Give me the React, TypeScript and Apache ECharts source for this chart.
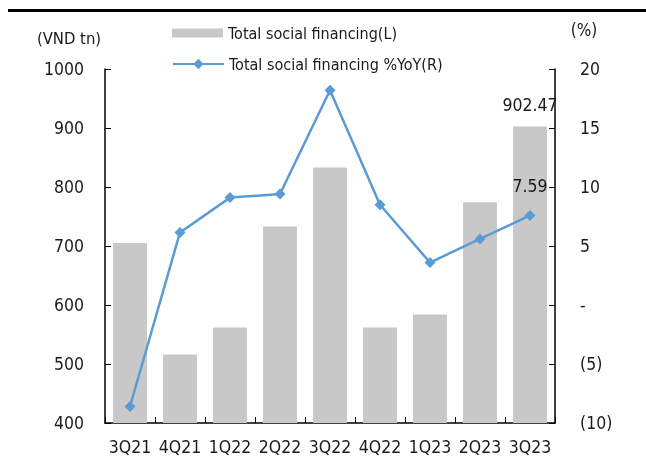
import React, { useEffect, useRef } from "react";
import * as echarts from "echarts";

const categories = ["3Q21", "4Q21", "1Q22", "2Q22", "3Q22", "4Q22", "1Q23", "2Q23", "3Q23"];
const financing = [705, 516, 562, 733, 833, 562, 584, 774, 902.47];
const yoy = [-8.6, 6.15, 9.1, 9.4, 18.2, 8.5, 3.6, 5.6, 7.59];
const leftTicks = [400, 1000, 100];
const rightTicks = [-10, 20, 5];

const FONT = "'DejaVu Sans Condensed', 'Liberation Sans', sans-serif";
const TXT = "#1a1a1a";
const FS = 16;
const AFS = 17.5;

export default function App() {
  const ref = useRef<HTMLDivElement>(null);
  useEffect(() => {
    const chart = echarts.init(ref.current!, undefined, { renderer: "svg" });
    const lastIdx = financing.length - 1;
    chart.setOption({
      animation: false,
      textStyle: { fontFamily: FONT },
      grid: { left: 105, right: 91, top: 69, bottom: 36 },
      legend: [
        {
          left: 167,
          top: 20,
          itemWidth: 51,
          itemHeight: 9,
          textStyle: { fontSize: FS, color: TXT, fontFamily: FONT },
          data: [{ name: "Total social financing(L)", icon: "rect" }],
        },
        {
          left: 167,
          top: 51,
          itemWidth: 51,
          itemHeight: 13,
          textStyle: { fontSize: FS, color: TXT, fontFamily: FONT },
          data: [{ name: "Total social financing %YoY(R)" }],
        },
      ],
      graphic: [
        { type: "rect", shape: { x: 8, y: 9, width: 638, height: 3 }, style: { fill: "#000" } },
        { type: "text", x: 69, y: 38, style: { text: "(VND tn)", fontSize: 16.5, fontFamily: FONT, fill: TXT, align: "center", verticalAlign: "middle" } },
        { type: "text", x: 584, y: 30, style: { text: "(%)", fontSize: 17, fontFamily: FONT, fill: TXT, align: "center", verticalAlign: "middle" } },
      ],
      xAxis: {
        type: "category",
        data: categories,
        axisLine: { onZero: false, lineStyle: { color: "#000", width: 1.5 } },
        axisTick: { show: true, inside: true, length: 6, lineStyle: { color: "#000" } },
        axisLabel: { interval: 0, fontSize: AFS, color: TXT, margin: 15, fontFamily: FONT },
      },
      yAxis: [
        {
          type: "value",
          min: leftTicks[0],
          max: leftTicks[1],
          interval: leftTicks[2],
          splitLine: { show: false },
          axisLine: { show: true, lineStyle: { color: "#000", width: 1.5 } },
          axisTick: { show: true, inside: true, length: 6, lineStyle: { color: "#000" } },
          axisLabel: { fontSize: AFS, color: TXT, margin: 21, fontFamily: FONT, formatter: (v: number) => String(v) },
        },
        {
          type: "value",
          min: rightTicks[0],
          max: rightTicks[1],
          interval: rightTicks[2],
          position: "right",
          splitLine: { show: false },
          axisLine: { show: true, lineStyle: { color: "#000", width: 1.5 } },
          axisTick: { show: true, inside: true, length: 6, lineStyle: { color: "#000" } },
          axisLabel: {
            fontSize: AFS,
            color: TXT,
            margin: 25,
            fontFamily: FONT,
            formatter: (v: number) => (v === 0 ? "-" : v < 0 ? `(${-v})` : `${v}`),
          },
        },
      ],
      series: [
        {
          name: "Total social financing(L)",
          type: "bar",
          yAxisIndex: 0,
          barWidth: 34,
          itemStyle: { color: "#c8c8c8" },
          data: financing.map((v, i) =>
            i === lastIdx
              ? { value: v, label: { show: true, position: "top", distance: 13, fontSize: AFS, color: TXT, fontFamily: FONT, formatter: "902.47" } }
              : v
          ),
        },
        {
          name: "Total social financing %YoY(R)",
          type: "line",
          yAxisIndex: 1,
          symbol: "diamond",
          symbolSize: 11,
          lineStyle: { color: "#5b9bd5", width: 2.5 },
          itemStyle: { color: "#5b9bd5" },
          data: yoy.map((v, i) =>
            i === lastIdx
              ? { value: v, label: { show: true, position: "top", distance: 15, fontSize: AFS, color: TXT, fontFamily: FONT, formatter: "7.59" } }
              : v
          ),
        },
      ],
    });
    return () => chart.dispose();
  }, []);
  return <div ref={ref} style={{ position: "fixed", left: 0, top: 0, width: 646, height: 459 }} />;
}
